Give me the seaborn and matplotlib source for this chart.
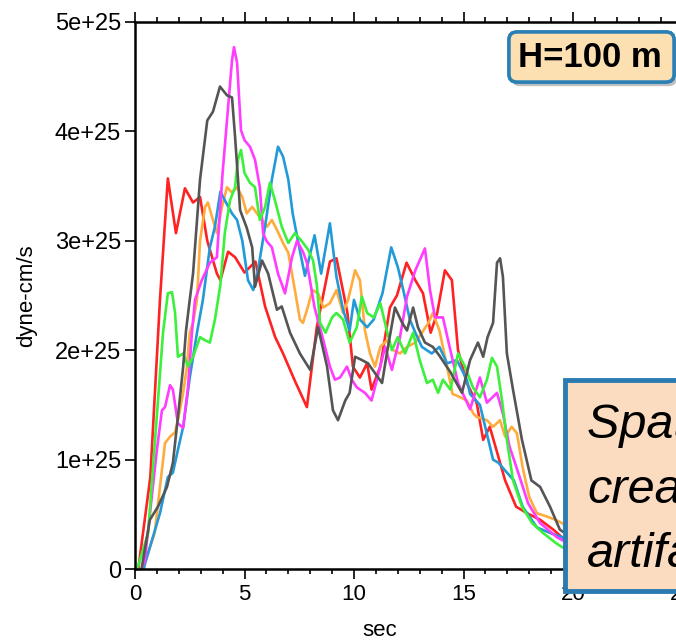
import pandas as pd
import seaborn as sns
import matplotlib.pyplot as plt
import matplotlib.patheffects as pe
from matplotlib.patches import Rectangle, FancyBboxPatch
from matplotlib.ticker import MultipleLocator, FuncFormatter

# ----------------------------
# DATA (moment rate, units of 1e25 dyne-cm/s)
# ----------------------------

red_t = [0.15, 0.7, 1.14, 1.5, 1.87, 2.28, 2.65, 2.97, 3.3, 3.74, 3.9, 4.25, 4.57, 5.0, 5.5,
         5.94, 6.4, 6.76, 7.3, 7.85, 8.3, 8.9, 9.2, 9.7, 9.95, 10.27, 10.6, 10.8, 11.2, 11.64,
         11.96, 12.4, 12.8, 13.15, 13.5, 13.8, 14.15, 14.47, 14.75, 15.15, 15.6, 15.9, 16.2,
         16.6, 16.9, 17.4, 17.9, 18.5, 19.1, 19.5, 21.0, 23.0]
red_v = [0.0, 0.84, 2.46, 3.57, 3.07, 3.48, 3.35, 3.40, 3.0, 2.70, 2.64, 2.90, 2.85, 2.71, 2.81,
         2.40, 2.12, 1.97, 1.72, 1.48, 2.21, 2.81, 2.84, 2.34, 1.85, 1.75, 1.88, 1.64, 1.85, 2.39,
         2.50, 2.80, 2.64, 2.52, 2.16, 2.34, 2.73, 2.64, 2.0, 1.70, 1.52, 1.18, 1.30,
         1.02, 0.81, 0.57, 0.51, 0.45, 0.36, 0.29, 0.12, 0.03]

orange_t = [0.35, 0.9, 1.14, 1.37, 1.6, 1.83, 1.96, 2.2, 2.37, 2.5, 2.65, 2.83, 2.97, 3.2, 3.33,
            3.56, 3.74, 3.97, 4.2, 4.43, 4.66, 4.9, 5.1, 5.35, 5.57, 5.8, 6.03, 6.25, 6.48, 6.76,
            7.0, 7.3, 7.53, 7.67, 7.9, 8.1, 8.36, 8.6, 8.9, 9.2, 9.5, 9.73, 10.05, 10.27, 10.5,
            10.73, 10.96, 11.2, 11.5, 11.8, 12.1, 12.42, 12.8, 13.1, 13.4, 13.6, 13.9, 14.25,
            14.5, 14.75, 15.15, 15.45, 15.6, 16.07, 16.35, 16.67, 16.9, 17.2, 17.44, 17.7, 18.0,
            18.35, 18.8, 19.2, 19.5, 21.0, 23.0]
orange_v = [0.0, 0.33, 0.75, 1.15, 1.21, 1.25, 1.36, 1.61, 1.85, 2.16, 2.25, 2.46, 3.0, 3.31, 3.35,
            3.19, 3.07, 3.31, 3.49, 3.44, 3.49, 3.40, 3.25, 3.31, 3.25, 3.19, 3.13, 3.19, 3.10, 2.98,
            2.89, 2.55, 2.28, 2.25, 2.40, 2.55, 2.52, 2.39, 2.43, 2.55, 2.34, 2.46, 2.73, 2.64, 2.18,
            1.97, 1.85, 2.03, 2.09, 2.0, 1.97, 2.03, 2.07, 2.16, 2.25, 2.34, 2.18, 1.85,
            1.60, 1.58, 1.54, 1.42, 1.39, 1.36, 1.30, 1.36, 1.21, 1.30, 1.24, 0.93, 0.66,
            0.51, 0.48, 0.45, 0.42, 0.15, 0.04]

blue_t = [0.4, 0.46, 1.14, 1.5, 1.73, 1.96, 2.2, 2.5, 2.83, 3.1, 3.42, 3.65, 3.9, 4.1, 4.43, 4.66,
          4.9, 5.16, 5.4, 5.6, 5.94, 6.25, 6.53, 6.76, 7.0, 7.2, 7.44, 7.76, 8.2, 8.5, 8.9, 9.2,
          9.5, 9.8, 10.0, 10.27, 10.6, 10.9, 11.3, 11.7, 12.0, 12.25, 12.55, 12.8, 13.1, 13.55,
          13.9, 14.25, 14.7, 15.15, 15.3, 15.75, 16.35, 16.6, 16.9, 17.3, 17.7, 18.35, 18.95,
          19.5, 21.0, 23.0]
blue_v = [0.0, 0.05, 0.51, 0.84, 0.88, 1.09, 1.30, 1.75, 2.16, 2.46, 2.94, 3.13, 3.45, 3.37, 3.25, 3.19,
          3.0, 2.64, 2.55, 2.71, 3.13, 3.56, 3.86, 3.77, 3.56, 3.25, 3.0, 2.68, 3.05, 2.70, 3.16, 2.67,
          2.37, 2.18, 2.46, 2.28, 2.21, 2.28, 2.52, 2.94, 2.76, 2.55, 2.28, 2.16, 2.03, 1.97,
          2.03, 1.88, 1.91, 1.73, 1.60, 1.50, 1.0, 0.97, 0.9, 0.81, 0.57, 0.38, 0.33,
          0.29, 0.12, 0.03]

magenta_t = [0.3, 0.45, 1.0, 1.23, 1.37, 1.6, 1.73, 1.96, 2.2, 2.42, 2.6, 2.74, 3.05, 3.42, 3.74,
             4.0, 4.25, 4.43, 4.52, 4.66, 4.84, 5.0, 5.25, 5.48, 5.7, 5.85, 6.0, 6.25, 6.53, 6.85,
             7.17, 7.4, 7.67, 7.85, 8.2, 8.6, 8.9, 9.13, 9.36, 9.68, 9.9, 10.13, 10.5, 10.8, 11.2,
             11.42, 11.73, 12.1, 12.42, 12.8, 13.24, 13.47, 13.7, 14.06, 14.4, 14.75, 15.3, 15.75,
             16.07, 16.53, 16.8, 17.1, 17.5, 17.95, 18.5, 19.27, 21.0, 23.0]
magenta_v = [0.0, 0.08, 1.09, 1.45, 1.48, 1.68, 1.64, 1.33, 1.29, 1.66, 2.16, 2.46, 2.64, 2.80, 2.85,
             3.62, 4.22, 4.65, 4.77, 4.63, 4.01, 3.92, 3.86, 3.74, 3.49, 3.07, 3.0, 2.94, 2.70, 2.52,
             2.85, 3.0, 2.90, 2.80, 2.39, 2.09, 1.85, 1.73, 1.75, 1.85, 1.73, 1.66, 1.61, 1.54, 1.85,
             2.03, 1.82, 2.12, 2.49, 2.73, 2.93, 2.55, 2.30, 2.30, 2.0, 1.70, 1.46, 1.75,
             1.52, 1.61, 1.42, 1.12, 0.88, 0.60, 0.42, 0.29, 0.10, 0.02]

green_t = [0.1, 0.6, 1.05, 1.28, 1.5, 1.69, 1.83, 1.96, 2.2, 2.42, 2.65, 2.97, 3.2, 3.42, 3.65, 3.9,
           4.1, 4.34, 4.57, 4.7, 4.84, 5.0, 5.25, 5.48, 5.7, 5.94, 6.16, 6.39, 6.7, 7.0, 7.3, 7.6,
           7.9, 8.13, 8.3, 8.45, 8.7, 9.0, 9.2, 9.5, 9.8, 10.13, 10.36, 10.6, 10.9, 11.2, 11.5,
           11.73, 12.0, 12.33, 12.7, 13.0, 13.33, 13.6, 13.84, 14.06, 14.4, 14.75, 15.07, 15.43,
           15.75, 16.07, 16.3, 16.53, 16.76, 16.98, 17.26, 17.67, 18.13, 18.63, 19.2, 19.5, 21.0, 23.0]
green_v = [0.0, 0.33, 1.54, 2.16, 2.52, 2.53, 2.34, 1.94, 1.97, 1.85, 1.94, 2.12, 2.09, 2.07, 2.28, 2.60,
           3.07, 3.37, 3.49, 3.74, 3.83, 3.62, 3.53, 3.49, 3.19, 3.31, 3.53, 3.37, 3.13, 2.98, 3.07, 3.0,
           2.92, 2.82, 2.60, 2.25, 2.16, 2.30, 2.34, 2.28, 2.07, 2.21, 2.49, 2.34, 2.30, 2.43, 2.18,
           2.0, 2.12, 1.97, 2.16, 1.91, 1.70, 1.73, 1.61, 1.73, 1.64, 1.97, 1.85, 1.66,
           1.57, 1.73, 1.93, 1.85, 1.54, 1.18, 0.81, 0.57, 0.42, 0.33, 0.24, 0.20, 0.08, 0.02]

gray_t = [0.3, 0.68, 1.05, 1.46, 1.73, 1.96, 2.2, 2.33, 2.5, 2.65, 2.97, 3.3, 3.56, 3.88, 4.2, 4.43,
          4.57, 4.8, 5.1, 5.35, 5.48, 5.8, 6.08, 6.48, 6.7, 7.08, 7.53, 8.0, 8.36, 8.77, 9.04, 9.27,
          9.6, 9.8, 10.05, 10.36, 10.64, 10.96, 11.28, 11.55, 11.87, 12.2, 12.42, 12.7, 12.92,
          13.24, 13.6, 13.9, 14.4, 14.93, 15.3, 15.66, 15.9, 16.1, 16.35, 16.53, 16.67, 16.8,
          16.98, 17.26, 17.67, 18.1, 18.5, 18.95, 19.4, 21.0, 23.0]
gray_v = [0.0, 0.45, 0.57, 0.75, 0.97, 1.39, 1.85, 2.18, 2.46, 2.70, 3.56, 4.10, 4.18, 4.41, 4.33, 4.31,
          3.95, 3.28, 3.12, 2.94, 2.58, 2.82, 2.70, 2.37, 2.40, 2.16, 1.97, 1.82, 2.21, 1.85, 1.45, 1.36,
          1.54, 1.61, 1.94, 1.91, 1.88, 1.79, 1.70, 2.03, 2.39, 2.25, 2.18, 2.39, 2.21,
          2.07, 2.03, 1.95, 1.80, 1.61, 1.91, 2.07, 1.94, 2.12, 2.25, 2.80, 2.84, 2.67,
          1.97, 1.64, 1.18, 0.81, 0.75, 0.57, 0.36, 0.14, 0.04]

series = {
    "red": (red_t, red_v, "#ff2222"),
    "orange": (orange_t, orange_v, "#ffab3d"),
    "blue": (blue_t, blue_v, "#239ad8"),
    "magenta": (magenta_t, magenta_v, "#ff3cff"),
    "green": (green_t, green_v, "#3cf03c"),
    "gray": (gray_t, gray_v, "#555555"),
}

SCALE = 1e25

frames = []
for name, (t, v, c) in series.items():
    frames.append(pd.DataFrame({"sec": t, "moment": [x * SCALE for x in v], "run": name}))
df = pd.concat(frames, ignore_index=True)
palette = {name: c for name, (t, v, c) in series.items()}

# ----------------------------
# PLOT
# ----------------------------

sns.set_theme(style="ticks")
plt.rcParams['font.family'] = ['Liberation Sans', 'DejaVu Sans']
plt.rcParams.update({"text.color": "black", "axes.labelcolor": "black",
                     "xtick.color": "black", "ytick.color": "black"})

W, H = 676, 642
fig = plt.figure(figsize=(W / 100, H / 100), dpi=100)
ax = fig.add_axes([135 / W, 1 - 569 / H, 657 / W, 547 / H])

sns.lineplot(data=df, x="sec", y="moment", hue="run", hue_order=list(series.keys()),
             palette=palette, estimator=None, sort=False, linewidth=1.9,
             legend=False, ax=ax)

ax.set_xlim(0, 30)
ax.set_ylim(0, 5 * SCALE)
ax.xaxis.set_major_locator(MultipleLocator(5))
ax.xaxis.set_minor_locator(MultipleLocator(1))
ax.yaxis.set_major_locator(MultipleLocator(SCALE))
ax.yaxis.set_major_formatter(FuncFormatter(lambda v, _: "0" if v == 0 else f"{v:.0e}"))

ax.tick_params(axis="x", which="both", direction="out", top=True, bottom=True,
               labeltop=False, labelsize=16, pad=4, width=1.2)
ax.tick_params(axis="y", which="both", direction="out", left=True, right=False,
               labelsize=17, pad=3, width=1.2)
ax.tick_params(which="major", length=7)
ax.tick_params(which="minor", length=3.5)
for s in ax.spines.values():
    s.set_linewidth(1.8)
    s.set_color("black")

ax.set_ylabel("dyne-cm/s", fontsize=16)
ax.yaxis.set_label_coords(-0.149, 0.5)
ax.set_xlabel("sec", fontsize=16)
ax.xaxis.set_label_coords(0.373, -0.093)


def fx(px):
    return px / W


def fy(py):
    return 1 - py / H


# H=100 m label box
hbox = FancyBboxPatch((fx(509), fy(82)), fx(674) - fx(509), fy(32) - fy(82),
                      boxstyle="round,pad=0,rounding_size=0.012",
                      transform=fig.transFigure, facecolor="#fde0b2",
                      edgecolor="#2a80b5", linewidth=2.5, zorder=5)
hbox.set_path_effects([pe.withSimplePatchShadow(offset=(2, -3), shadow_rgbFace="gray", alpha=0.5),
                       pe.Normal()])
fig.add_artist(hbox)
fig.text(fx(590), fy(67), "H=100 m", fontsize=25, fontweight="bold", color="black",
         ha="center", va="baseline", zorder=6)

# big note box, cut off at the right edge
note = Rectangle((fx(565), fy(591)), fx(760) - fx(565), fy(380) - fy(591),
                 transform=fig.transFigure, facecolor="#fcdcc1",
                 edgecolor="#2b7bb1", linewidth=3.5, zorder=5)
fig.add_artist(note)
for line, base in zip(["Spatial averaging", "creates", "artifacts"], [438, 503, 567]):
    fig.text(fx(587), fy(base), line, fontsize=35, style="italic", color="black",
             ha="left", va="baseline", zorder=6)

fig.savefig("out.png", dpi=100)
